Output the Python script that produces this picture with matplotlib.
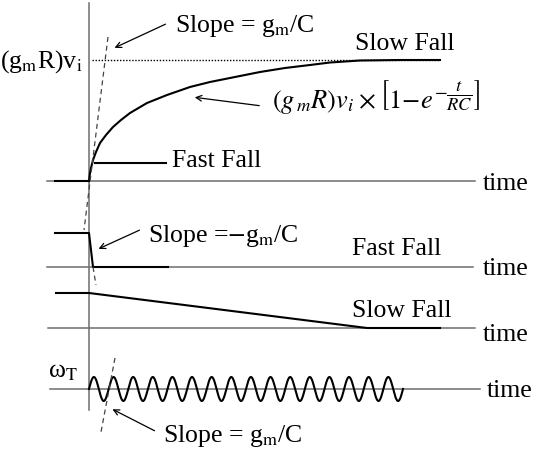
import numpy as np
import matplotlib.pyplot as plt

plt.rcParams['font.family'] = ['Liberation Serif', 'DejaVu Serif']
plt.rcParams['mathtext.fontset'] = 'stix'

# baselines of the four traces (pixel rows) and their horizontal extents
axis_y = [181, 267, 328, 389]
axis_x0 = [47, 47, 48, 50]
axis_x1 = [475, 473, 475, 480]
t0 = 89  # position of the vertical (t = 0) axis

# output voltage rising towards (gm R) vi
rise_x = [89, 90, 91, 93, 96, 100, 106, 113, 121, 130, 147, 167, 190, 210,
          240, 260, 285, 310, 330, 360, 400, 440]
rise_y = [181, 173, 168, 160, 152, 143, 135, 127, 120, 113, 103, 95, 87, 82,
          76, 72, 68, 65, 62.5, 60.5, 60, 60]
final_level = 60

# fast fall trace
fast_x = [55, 89, 93, 168]
fast_y = [233, 233, 267, 267]

# slow fall trace
slow_x = [56, 89, 367, 440]
slow_y = [293, 293, 328, 328]

# oscillation at omega_T
wave_start, wave_end = 89, 403
wave_cycles = 16
wave_amp = 12

fig = plt.figure(figsize=(5.37, 4.5), dpi=100)
ax = fig.add_axes([0, 0, 1, 1])
ax.set_xlim(0, 537)
ax.set_ylim(450, 0)
ax.axis('off')

axis_col = '#6e6e6e'
sig_lw = 1.5
fs = 18.5

# axes
ax.plot([t0, t0], [3, 410], color=axis_col, lw=1.1)
for y, x0, x1 in zip(axis_y, axis_x0, axis_x1):
    ax.plot([x0, x1], [y, y], color=axis_col, lw=1.1)

time_base = [190, 275, 341, 397]
time_x = [483, 483, 483, 487]
for x, y in zip(time_x, time_base):
    ax.text(x, y, 'time', fontsize=fs, va='baseline', ha='left')

# top panel
ax.plot([55, t0], [axis_y[0], axis_y[0]], color='black', lw=sig_lw)
ax.plot(rise_x, rise_y, color='black', lw=sig_lw, solid_joinstyle='round')
ax.plot([92, 440], [final_level, final_level], color='black', lw=1.0, ls=(0, (1, 1.2)))
ax.plot([108, 84], [37, 230], color='#444444', lw=0.9, ls=(0, (4, 3)))
ax.plot([95, 166], [163, 163], color='black', lw=sig_lw)

ax.text(83, 68, r'(g$_{\rm m}$R)v$_{\rm i}$', fontsize=fs, ha='right', va='baseline')
ax.text(175, 32, r'Slope = g$_{\rm m}$/C', fontsize=fs, ha='left', va='baseline')
ax.annotate('', xy=(112, 49), xytext=(168, 23),
            arrowprops=dict(arrowstyle='->', lw=0.9, color='black'))
ax.text(355, 50, 'Slow Fall', fontsize=fs, ha='left', va='baseline')
ax.text(172, 167, 'Fast Fall', fontsize=fs, ha='left', va='baseline')
ax.text(272, 98, r'$(g_{\,m}R)v_i\;{\times}\,\left[1\!-\!e^{-\dfrac{t}{RC}}\right]$',
        fontsize=19, ha='left', va='center')
ax.annotate('', xy=(192, 97), xytext=(262, 106),
            arrowprops=dict(arrowstyle='->', lw=0.9, color='black'))

# fast fall panel
ax.plot(fast_x, fast_y, color='black', lw=sig_lw)
ax.plot([93, 96], [267, 285], color='#444444', lw=0.9, ls=(0, (4, 3)))
ax.text(148, 242, r'Slope =$-$g$_{\rm m}$/C', fontsize=fs, ha='left', va='baseline')
ax.annotate('', xy=(96, 250), xytext=(142, 229),
            arrowprops=dict(arrowstyle='->', lw=0.9, color='black'))
ax.text(352, 255, 'Fast Fall', fontsize=fs, ha='left', va='baseline')

# slow fall panel
ax.plot(slow_x, slow_y, color='black', lw=sig_lw)
ax.text(352, 317, 'Slow Fall', fontsize=fs, ha='left', va='baseline')

# oscillation panel
t = np.linspace(0, 1, 1200)
wx = wave_start + (wave_end - wave_start) * t
wy = axis_y[3] - wave_amp * np.sin(2 * np.pi * wave_cycles * t)
ax.plot(wx, wy, color='black', lw=sig_lw)
ax.plot([115, 101], [358, 432], color='#444444', lw=0.9, ls=(0, (4, 3)))
ax.text(48, 377, r'ω$_{\rm T}$', fontsize=fs, ha='left', va='baseline')
ax.text(163, 442, r'Slope = g$_{\rm m}$/C', fontsize=fs, ha='left', va='baseline')
ax.annotate('', xy=(110, 408), xytext=(157, 432),
            arrowprops=dict(arrowstyle='->', lw=0.9, color='black'))

fig.savefig('out.png', dpi=100)
